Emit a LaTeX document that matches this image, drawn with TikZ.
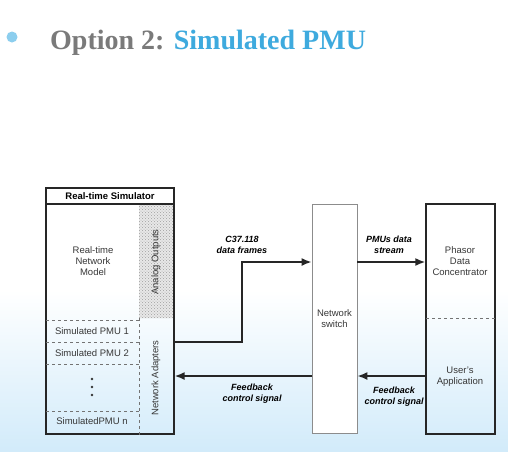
\documentclass[tikz,border=0pt]{standalone}
\usepackage{fontspec}
\setmainfont{Liberation Sans}
\newfontfamily\titlefont{Liberation Serif}
\usetikzlibrary{arrows.meta}
\usetikzlibrary{patterns}
\definecolor{titlegray}{RGB}{122,122,122}
\definecolor{titleblue}{RGB}{62,170,222}
\definecolor{bulletblue}{RGB}{140,206,238}
\definecolor{skyblue}{RGB}{210,235,250}
\definecolor{boxtext}{RGB}{55,55,55}

\begin{document}
\begin{tikzpicture}[x=1pt, y=-1pt,
    txt/.style={font=\fontsize{9.5}{11}\selectfont, text=boxtext, align=center, inner sep=0pt},
    lbl/.style={font=\fontsize{9}{11}\selectfont\bfseries\itshape, align=center, inner sep=0pt},
    sig/.style={line width=1.7pt, draw=black!85, -{Latex[length=10pt,width=8pt]}},
    part/.style={dashed, draw=black!55, line width=0.6pt}]
    \useasboundingbox (0,0) rectangle (508,451);
    \fill[white] (0,0) rectangle (508,290);
    \shade[top color=white, bottom color=skyblue] (0,290) rectangle (508,451);

    % title
    \fill[bulletblue] (12,37) circle[radius=5.5pt];
    \node[anchor=base west, inner sep=0pt, font=\titlefont\bfseries\fontsize{28}{30}\selectfont] (title) at (50,49)
        {\textcolor{titlegray}{Option 2:} \textcolor{titleblue}{Simulated PMU}};

    % simulator
    \fill[gray!18] (139,204) rectangle (174,318);
    \fill[pattern=crosshatch dots, pattern color=gray!75] (139,204) rectangle (174,318);
    \node[draw=black!85, line width=1.3pt, minimum width=128, minimum height=246, inner sep=0pt] (sim) at (110,311) {};
    \coordinate (headline) at (46,204);
    \draw[line width=1.1pt, black!85] (headline) -- (headline -| sim.east);
    \node[txt, font=\fontsize{9.5}{11}\selectfont\bfseries, text=black] (simhead) at (110,196) {Real-time Simulator};
    \node[txt] (rtnm) at (93,261) {Real-time\\Network\\Model};
    \node[txt, rotate=90] (aout) at (156,262) {Analog Outputs};
    \node[txt, rotate=90] (nadapt) at (156,378) {Network Adapters};
    \coordinate (sepa) at (46,320);
    \coordinate (sepb) at (46,342);
    \coordinate (sepc) at (46,364);
    \coordinate (sepd) at (46,411);
    \coordinate (colx) at (139,318);
    \draw[part] (colx) -- (colx |- sim.south);
    \foreach \s in {sepa,sepb,sepc,sepd}
        \draw[part] (\s) -- (\s -| colx);
    \node[txt] (pmuone) at (92,331) {Simulated PMU 1};
    \node[txt] (pmutwo) at (92,353) {Simulated PMU 2};
    \foreach \dy in {379,387,395}
        \fill[black!80] (92,\dy) circle[radius=1.4pt];
    \node[txt] (pmun) at (92,421) {SimulatedPMU n};

    % switch and concentrator
    \node[draw=black!45, fill=white, line width=0.8pt, minimum width=45, minimum height=229, inner sep=0pt] (sw) at (334.5,318.5) {};
    \node[txt] (swname) at (334.5,319) {Network\\switch};
    \node[draw=black!85, line width=1.4pt, minimum width=69, minimum height=230, inner sep=0pt] (pdc) at (460.5,319) {};
    \coordinate (pdcsep) at (426,318);
    \draw[part] (pdcsep) -- (pdcsep -| pdc.east);
    \node[txt] (pdcname) at (460,261) {Phasor\\Data\\Concentrator};
    \node[txt] (userapp) at (460,377) {User's\\Application};

    % signals
    \coordinate (bend) at (242,262);
    \coordinate (fb) at (0,376);
    \draw[sig] (sepb -| sim.east) -| (bend) -- (bend -| sw.west);
    \draw[sig] (sw.east |- bend) -- (pdc.west |- bend);
    \draw[sig] (pdc.west |- fb) -- (sw.east |- fb);
    \draw[sig] (sw.west |- fb) -- (sim.east |- fb);
    \node[lbl] (lblframes) at (242,245) {C37.118\\data frames};
    \node[lbl] (lblstream) at (389,245) {PMUs data\\stream};
    \node[lbl] (lblfbright) at (394,397) {Feedback\\control signal};
    \node[lbl] (lblfbleft) at (252,394) {Feedback\\control signal};
\end{tikzpicture}
\end{document}
